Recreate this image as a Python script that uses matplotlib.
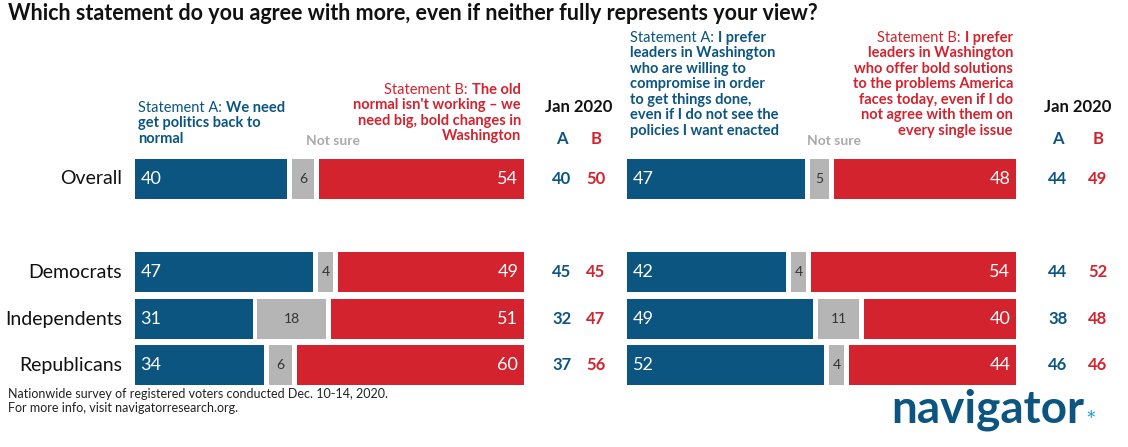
import matplotlib
matplotlib.use("Agg")
import matplotlib.pyplot as plt

plt.rcParams['font.family'] = ['Lato', 'DejaVu Sans']

groups = ["Overall", "Democrats", "Independents", "Republicans"]
left_a = [40, 47, 31, 34]
left_ns = [6, 4, 18, 6]
left_b = [54, 49, 51, 60]
left_jan_a = [40, 45, 32, 37]
left_jan_b = [50, 45, 47, 56]
right_a = [47, 42, 49, 52]
right_ns = [5, 4, 11, 4]
right_b = [48, 54, 40, 44]
right_jan_a = [44, 44, 38, 46]
right_jan_b = [49, 52, 48, 46]

BLUE = "#0b5580"
RED = "#d3232e"
GRAY = "#b5b5b5"
W, H = 1128, 447
fig = plt.figure(figsize=(W/100, H/100), dpi=100)
renderer = fig.canvas.get_renderer()
rows_y = [179, 272, 319, 365]
bh = 40
gap = 1.3

def panel(x0, x1, A, N, B, ja, jb, jx_a, jx_b):
    ax = fig.add_axes([x0/W, 0, (x1-x0)/W, 1])
    ax.set_xlim(0, 100 + 2*gap)
    ax.set_ylim(H, 0)
    ax.axis('off')
    for y, a, n, b in zip(rows_y, A, N, B):
        ax.barh(y, a, height=bh, left=0, color=BLUE)
        ax.barh(y, n, height=bh, left=a+gap, color=GRAY)
        ax.barh(y, b, height=bh, left=a+n+2*gap, color=RED)
        ax.text(1.5, y, str(a), color='white', fontsize=13, va='center', ha='left')
        ax.text(a+gap+n/2, y, str(n), color='#333333', fontsize=10, va='center', ha='center')
        ax.text(100+2*gap-1.5, y, str(b), color='white', fontsize=13, va='center', ha='right')
    for y, a, b in zip(rows_y, ja, jb):
        fig.text(jx_a/W, 1-y/H, str(a), color=BLUE, fontsize=12, fontweight='bold', ha='center', va='center')
        fig.text(jx_b/W, 1-y/H, str(b), color=RED, fontsize=12, fontweight='bold', ha='center', va='center')
    fig.text((jx_a+jx_b)/2/W, 1-107/H, "Jan 2020", fontsize=12, fontweight='bold', ha='center', va='center', color='#111111')
    fig.text(jx_a/W, 1-139/H, "A", color=BLUE, fontsize=12, fontweight='bold', ha='center', va='center')
    fig.text(jx_b/W, 1-139/H, "B", color=RED, fontsize=12, fontweight='bold', ha='center', va='center')

panel(135, 524, left_a, left_ns, left_b, left_jan_a, left_jan_b, 562, 596)
panel(627, 1016, right_a, right_ns, right_b, right_jan_a, right_jan_b, 1058, 1098)

for g, y in zip(groups, rows_y):
    fig.text(122/W, 1-y/H, g, fontsize=14, ha='right', va='center', color='#111111')

fig.text(8/W, 1-14/H, "Which statement do you agree with more, even if neither fully represents your view?",
         fontsize=15.5, fontweight='bold', va='center', ha='left', color='#111111')

LS = 1.1
FS = 10.5
def header(x, ytop, first_bold, lines, color, ha):
    fs = FS
    probe = fig.text(0, 0, "Statement A: ", fontsize=fs)
    wlead = probe.get_window_extent(renderer).width
    probe.remove()
    probe = fig.text(0, 0, first_bold, fontsize=fs, fontweight='bold')
    wbold = probe.get_window_extent(renderer).width
    probe.remove()
    if ha == 'left':
        lx = x
        bx = x + wlead
    else:
        lx = x - wbold - wlead
        bx = x - wbold
    fig.text(lx/W, 1-ytop/H, "Statement " + ("A" if color == BLUE else "B") + ": ", fontsize=fs, color=color, ha='left', va='top')
    fig.text(bx/W, 1-ytop/H, first_bold, fontsize=fs, color=color, ha='left', va='top', fontweight='bold')
    lh = fs * LS * 1.25 * 1.04
    fig.text(x/W, 1-(ytop+lh)/H, "\n".join(lines), fontsize=fs, color=color, ha=ha, va='top',
             fontweight='bold', linespacing=LS * 1.04)

header(138, 101, "We need", ["get politics back to", "normal"], BLUE, 'left')
header(521, 83, "The old", ["normal isn't working – we", "need big, bold changes in", "Washington"], RED, 'right')
header(630, 31, "I prefer", ["leaders in Washington", "who are willing to", "compromise in order", "to get things done,",
                             "even if I do not see the", "policies I want enacted"], BLUE, 'left')
header(1013, 31, "I prefer", ["leaders in Washington", "who offer bold solutions", "to the problems America",
                              "faces today, even if I do", "not agree with them on", "every single issue"], RED, 'right')
fig.text(333/W, 1-141/H, "Not sure", fontsize=10, color='#aaaaaa', ha='center', va='center', fontweight='bold')
fig.text(834/W, 1-141/H, "Not sure", fontsize=10, color='#aaaaaa', ha='center', va='center', fontweight='bold')

fig.text(8/W, 1-401/H, "Nationwide survey of registered voters conducted Dec. 10-14, 2020.\nFor more info, visit navigatorresearch.org.",
         fontsize=9, ha='left', va='center', color='#222222', linespacing=1.2)
fig.text(988/W, 1-410/H, "navigator", fontsize=33, fontweight='bold', color=BLUE, ha='center', va='center')
fig.text(1091/W, 1-422/H, "*", fontsize=18, color='#2a9fd6', ha='center', va='center')

fig.savefig("out.png", dpi=100)
